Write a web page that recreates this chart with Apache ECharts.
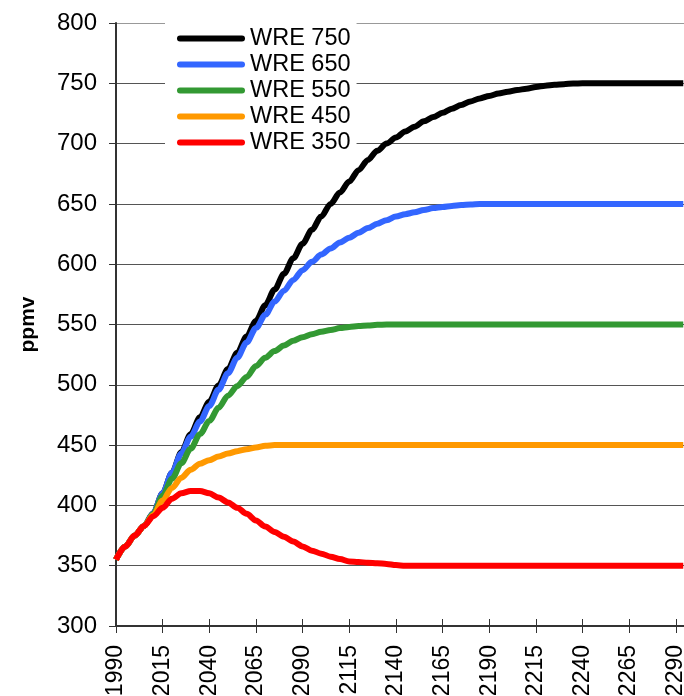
<!DOCTYPE html>
<html>
<head>
<meta charset="utf-8">
<script src="https://cdn.jsdelivr.net/npm/echarts@6/dist/echarts.min.js"></script>
<style>
  html, body { margin: 0; padding: 0; background: #fff; }
  #chart { width: 684px; height: 696px; }
</style>
</head>
<body>
<div id="chart"></div>
<script>
// CO2 concentration pathways (ppmv) for the WRE stabilisation scenarios
const years = [1990,1995,2000,2005,2010,2015,2020,2025,2030,2035,2040,2045,2050,2055,2060,2065,2070,2075,2080,2085,2090,2095,2100,2105,2110,2115,2120,2125,2130,2135,2140,2145,2150,2155,2160,2165,2170,2175,2180,2185,2190,2195,2200,2205,2210,2215,2220,2225,2230,2235,2240,2294];

const wre750 = [355,366,375,383,393.5,410,427,444,459,473,486,499.5,513,526.5,540,553,566,579,592,605,617,628.5,639.5,650,659.5,668.5,678,686.5,694,700,705,710,714,718.5,722,725.5,729,732,735,737.5,739.5,741.5,743,744.5,745.5,747,748,748.7,749.3,749.8,750,750];
const wre650 = [355,366,375,383,393.5,410,427,443,457,469.5,482.5,496,509.5,522.5,535,547,558,569,578,587,595,602,608,613,618,622,626,630,633.5,636.5,639.5,641.5,643,645,646.5,647.5,648.3,649,649.5,650,650,650,650,650,650,650,650,650,650,650,650,650];
const wre550 = [355,366,375,383,393,408,422,435,447,459,470,481,491,499,506.5,515.5,522.5,528,532.5,536.5,539.5,542,544,545.5,547,548,548.7,549.2,549.7,550,550,550,550,550,550,550,550,550,550,550,550,550,550,550,550,550,550,550,550,550,550,550];
const wre450 = [355,366,375,383,392,404,414.5,423,429.5,434.5,437.5,440.5,443,445,446.5,448,449.5,450,450,450,450,450,450,450,450,450,450,450,450,450,450,450,450,450,450,450,450,450,450,450,450,450,450,450,450,450,450,450,450,450,450,450];
const wre350 = [355,366,375,383,391,398,405.5,410,412,412,410,406.5,402.5,398,393,387.5,382.5,378,374,370,366,362.5,360,357.5,355.5,353.5,353,352.5,352,351.5,350.5,350,350,350,350,350,350,350,350,350,350,350,350,350,350,350,350,350,350,350,350,350];

const seriesNames = ['WRE 750', 'WRE 650', 'WRE 550', 'WRE 450', 'WRE 350'];
const seriesValues = [wre750, wre650, wre550, wre450, wre350];
const seriesColors = ['#000000', '#3366ff', '#339933', '#ff9900', '#ff0000'];

const xTickYears = [1990,2015,2040,2065,2090,2115,2140,2165,2190,2215,2240,2265,2290];
const yMin = 300, yMax = 800, yStep = 50;
const xMin = 1990, xMax = 2294.4;

const font = "'Liberation Sans', Arial, sans-serif";
const axisColor = '#333';
// horizontal grid lines, 300 .. 800 (the top one is fainter)
const gridColors = ['#555','#555','#555','#555','#555','#555','#555','#555','#555','#555','#999'];

const chart = echarts.init(document.getElementById('chart'), null, { renderer: 'canvas' });

const series = seriesNames.map((name, i) => ({
  name: name,
  type: 'line',
  data: years.map((y, k) => [y, seriesValues[i][k]]),
  symbol: 'none',
  showSymbol: false,
  smooth: 0.3,
  smoothMonotone: 'x',
  lineStyle: { width: 6, color: seriesColors[i] },
  itemStyle: { color: seriesColors[i] },
  z: 2 + i
}));

chart.setOption({
  animation: false,
  backgroundColor: '#fff',
  textStyle: { fontFamily: font },
  grid: { left: 116, right: 0, top: 23, bottom: 70, outerBoundsMode: 'none', containLabel: false },
  legend: {
    orient: 'vertical',
    left: 165,
    top: 23,
    padding: [3.5, 6, 8, 12],
    backgroundColor: '#fff',
    itemWidth: 68,
    itemHeight: 6,
    itemGap: 2,
    icon: 'path://M3,0 H65 A3,3 0 0 1 65,6 H3 A3,3 0 0 1 3,0 Z',
    data: seriesNames,
    textStyle: { fontFamily: font, fontSize: 23.5, color: '#000', lineHeight: 24 }
  },
  xAxis: [
    {
      type: 'value',
      min: xMin,
      max: xMax,
      axisLine: { show: true, onZero: false, lineStyle: { color: axisColor, width: 2 } },
      axisTick: { show: true, inside: false, length: 7, customValues: xTickYears, lineStyle: { color: axisColor, width: 1 } },
      axisLabel: {
        customValues: xTickYears,
        rotate: 90,
        margin: 19,
        fontFamily: font,
        fontSize: 23,
        color: '#000',
        formatter: v => String(v)
      },
      splitLine: { show: false }
    },
    {
      type: 'value',
      min: xMin,
      max: xMax,
      position: 'bottom',
      axisLine: { show: false },
      axisTick: { show: true, inside: true, length: 7, customValues: xTickYears, lineStyle: { color: axisColor, width: 1 } },
      axisLabel: { show: false },
      splitLine: { show: false }
    }
  ],
  yAxis: {
    type: 'value',
    min: yMin,
    max: yMax,
    interval: yStep,
    name: 'ppmv',
    nameLocation: 'middle',
    nameRotate: 90,
    nameGap: 77,
    nameTextStyle: { fontFamily: font, fontSize: 21, fontWeight: 'bold', color: '#000' },
    axisLine: { show: true, onZero: false, lineStyle: { color: axisColor, width: 2 } },
    axisTick: { show: true, inside: false, length: 7, lineStyle: { color: axisColor, width: 1 } },
    axisLabel: { margin: 19, fontFamily: font, fontSize: 24, color: '#000' },
    splitLine: { show: true, lineStyle: { color: gridColors, width: 1 } }
  },
  series: series
});
</script>
</body>
</html>
